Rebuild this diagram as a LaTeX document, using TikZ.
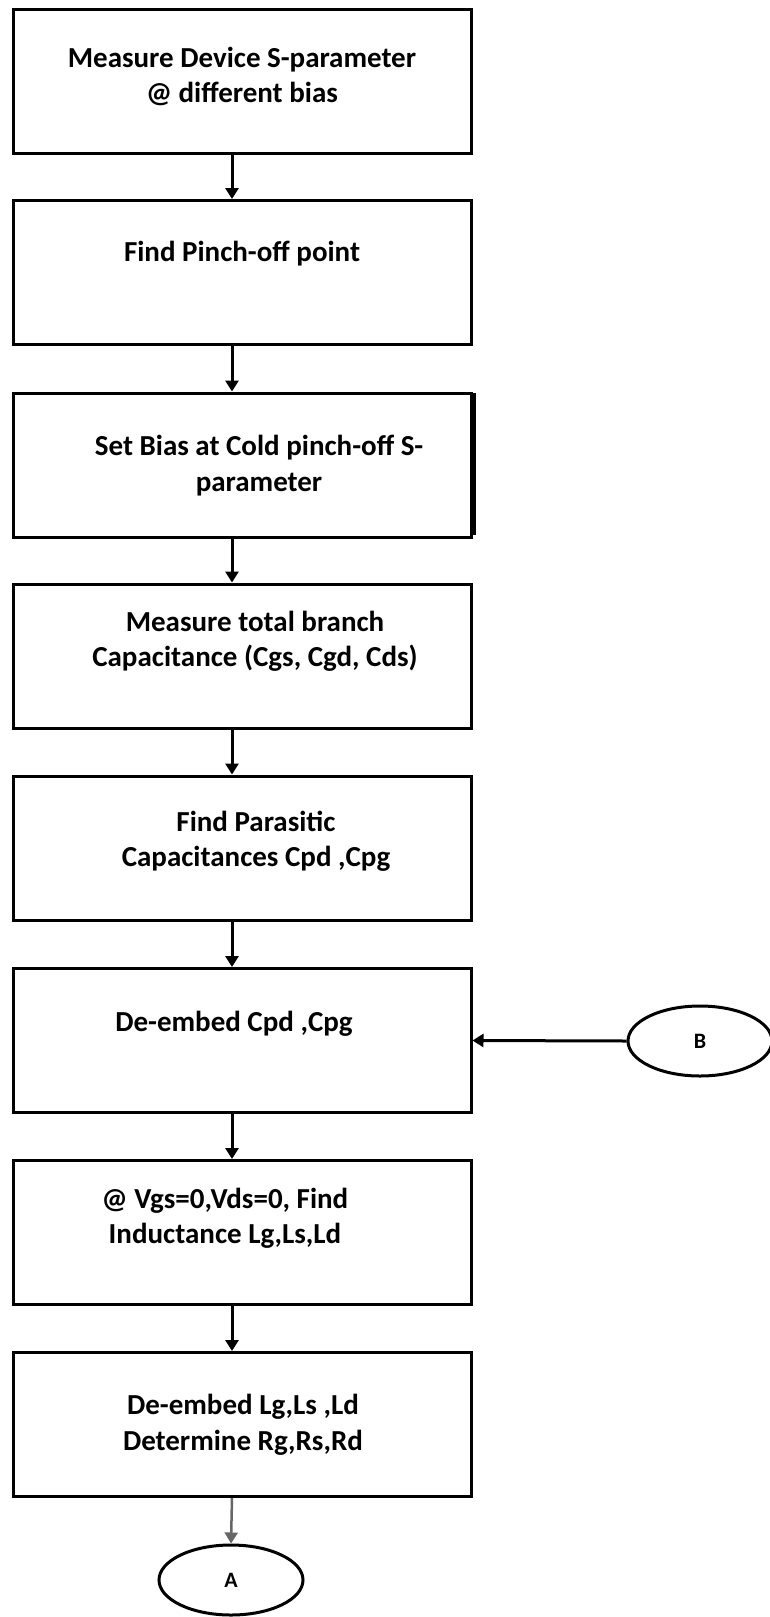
\documentclass[tikz,border=0pt]{standalone}
\usepackage{fontspec}
\setmainfont{Carlito}
\usetikzlibrary{arrows.meta,shapes.geometric}
\begin{document}
\begin{tikzpicture}[x=1pt,y=-1pt,
  stepbox/.style={draw=black,line width=3pt,minimum width=458pt,minimum height=144pt,inner sep=0pt},
  lbl/.style={font=\bfseries\fontsize{29}{35.5}\selectfont,align=center,inner sep=0pt},
  arr/.style={line width=3pt,-{Triangle[length=11pt,width=13pt]}},
  term/.style={draw=black,line width=3pt,ellipse,minimum width=144pt,minimum height=70pt,inner sep=0pt,font=\bfseries\fontsize{22}{24}\selectfont}]
\useasboundingbox (0,0) rectangle (769,1617);
\coordinate (axis) at (232,0);
\node[stepbox] (b1) at (242,81) {};
\node[stepbox] (b2) at (242,272.5) {};
\node[stepbox] (b3) at (242,465) {};
\node[stepbox] (b4) at (242,656) {};
\node[stepbox] (b5) at (242,848) {};
\node[stepbox] (b6) at (242,1040.5) {};
\node[stepbox] (b7) at (242,1232.5) {};
\node[stepbox] (b8) at (242,1424.5) {};
\draw[line width=4pt] ([xshift=1pt,yshift=-1.5pt]b3.north east) -- ([xshift=1pt,yshift=4pt]b3.south east);
\node[term] (B) at (700,1041) {B};
\node[term] (A) at (231,1580) {A};
\node[lbl] (t1) at (242,76.5) {Measure Device S-parameter\\@ different bias};
\node[lbl] (t2) at (242,254) {Find Pinch-off point};
\node[lbl] (t3) at (259,465.5) {Set Bias at Cold pinch-off S-\\parameter};
\node[lbl] (t4) at (255,641.5) {Measure total branch\\Capacitance (Cgs, Cgd, Cds)};
\node[lbl] (t5) at (256,841) {Find Parasitic\\Capacitances Cpd ,Cpg};
\node[lbl] (t6) at (234,1024) {De-embed Cpd ,Cpg};
\node[lbl] (t7) at (225,1218.5) {@ Vgs=0,Vds=0, Find\\Inductance Lg,Ls,Ld};
\node[lbl] (t8) at (243,1425) {De-embed Lg,Ls ,Ld\\Determine Rg,Rs,Rd};
\draw[arr] (b1.south -| axis) -- (b2.north -| axis);
\draw[arr] (b2.south -| axis) -- (b3.north -| axis);
\draw[arr] (b3.south -| axis) -- (b4.north -| axis);
\draw[arr] (b4.south -| axis) -- (b5.north -| axis);
\draw[arr] (b5.south -| axis) -- (b6.north -| axis);
\draw[arr] (b6.south -| axis) -- (b7.north -| axis);
\draw[arr] (b7.south -| axis) -- (b8.north -| axis);
\draw[arr,draw=black!60,line width=2.5pt] (b8.south -| axis) -- (A.north);
\draw[arr] (B.west) -- (b6.east);
\end{tikzpicture}
\end{document}
